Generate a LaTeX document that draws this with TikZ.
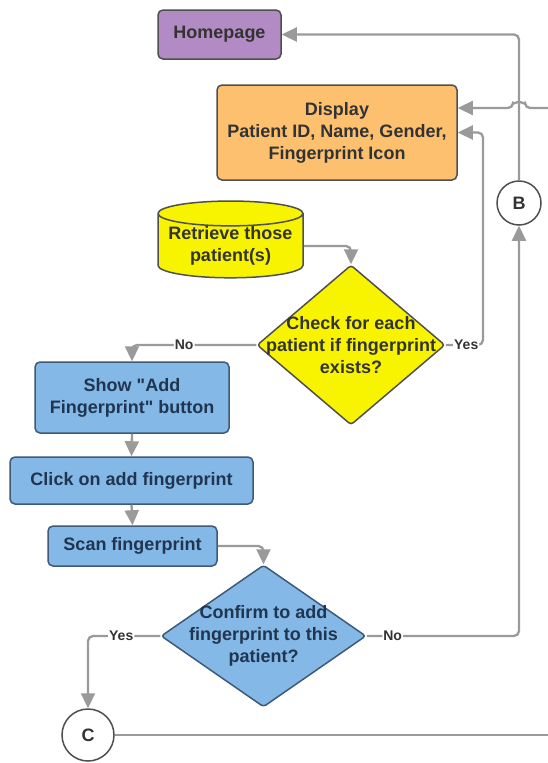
\documentclass[tikz,border=0pt]{standalone}
\usepackage{fontspec}
\setmainfont{Liberation Sans}[Ligatures=TeXOff]
\usetikzlibrary{shapes.geometric,arrows.meta,calc}
\definecolor{purp}{HTML}{B38BC4}
\definecolor{orng}{HTML}{FDC06F}
\definecolor{yel}{HTML}{F8F400}
\definecolor{blu}{HTML}{84B8E6}
\definecolor{edge}{HTML}{4F4F4F}
\definecolor{bedge}{HTML}{3E5A78}
\definecolor{linec}{HTML}{9A9A9A}
\definecolor{txtd}{HTML}{333333}
\definecolor{txtb}{HTML}{1F3550}
\begin{document}
\begin{tikzpicture}[x=1pt,y=-1pt,
  tfont/.style={font=\fontsize{18}{22}\selectfont\bfseries},
  box/.style={draw=edge, line width=1.5pt, rounded corners=5pt, tfont, align=center, inner sep=0pt, text=txtd},
  bbox/.style={box, draw=bedge, fill=blu, text=txtb},
  dia/.style={diamond, draw=edge, line width=1.5pt, rounded corners=3pt, inner sep=0pt},
  dtext/.style={tfont, align=center, inner sep=0pt},
  conn/.style={draw=linec, line width=2.3pt, rounded corners=5pt, -{Triangle[length=15pt,width=14pt]}},
  plain/.style={draw=linec, line width=2.3pt, rounded corners=5pt},
  lab/.style={fill=white, inner sep=1pt, font=\fontsize{14}{16}\selectfont\bfseries, text=txtd},
  ctr/.style={circle, draw=edge, fill=white, line width=1.5pt, inner sep=0pt, tfont, text=txtd}
]
\useasboundingbox (0,0) rectangle (548,763);
\node[box, fill=purp, minimum width=123pt, minimum height=49pt] (home) at (219.5,34.5) {Homepage};
\node[box, fill=orng, minimum width=240pt, minimum height=95pt] (disp) at (337,132.5) {Display\\Patient ID, Name, Gender,\\Fingerprint Icon};
\node[ctr, minimum size=44pt] (B) at (519,203) {B};
\node[cylinder, shape border rotate=90, aspect=0.2, draw=edge, line width=1.5pt, fill=yel, minimum width=145pt, minimum height=72pt, inner sep=0pt, tfont, align=center, text=txtd] (ret) at (230.5,246) {Retrieve those\\patient(s)};
\node[dia, fill=yel, minimum width=188pt, minimum height=160pt] (check) at (351,345) {};
\node[dtext, text=txtd] at (check) {Check for each\\patient if fingerprint\\exists?};
\node[bbox, minimum width=194pt, minimum height=71pt] (show) at (132,397.5) {Show "Add\\Fingerprint" button};
\node[bbox, minimum width=243pt, minimum height=47pt] (click) at (131.5,480.5) {Click on add fingerprint};
\node[bbox, minimum width=169pt, minimum height=40pt] (scan) at (132.5,546) {Scan fingerprint};
\node[dia, draw=bedge, fill=blu, minimum width=205pt, minimum height=142pt] (conf) at (263.5,636) {};
\node[dtext, text=txtb] at (conf) {Confirm to add\\fingerprint to this\\patient?};
\node[ctr, minimum size=52pt] (C) at (88,735) {C};

\coordinate (inR) at (548,108);
\coordinate (yb) at (483,0);
\coordinate (cR) at (548,735);

\draw[conn] (B.north) |- (home.east);
\draw[conn] (inR) -- ($(B.north |- inR)+(6,0)$) arc[start angle=0,end angle=-180,radius=6] -- (disp.east |- inR);
\draw[conn] (check.east) -- node[lab, pos=0.55]{Yes} (check.east -| yb) -- (disp.east -| yb) -- (disp.east);
\draw[conn] (ret.east) -| (check.north);
\draw[conn] (check.west) -| node[lab, pos=0.29]{No} (show.north);
\draw[conn] (show.south) -- (click.north);
\draw[conn] (click.south) -- (scan.north);
\draw[conn] (scan.east) -| (conf.north);
\draw[conn] (conf.west) -| node[lab, pos=0.27]{Yes} (C.north);
\draw[conn] (conf.east) -| node[lab, pos=0.085]{No} (B.south);
\draw[plain] (C.east) -- (cR);
\end{tikzpicture}
\end{document}
